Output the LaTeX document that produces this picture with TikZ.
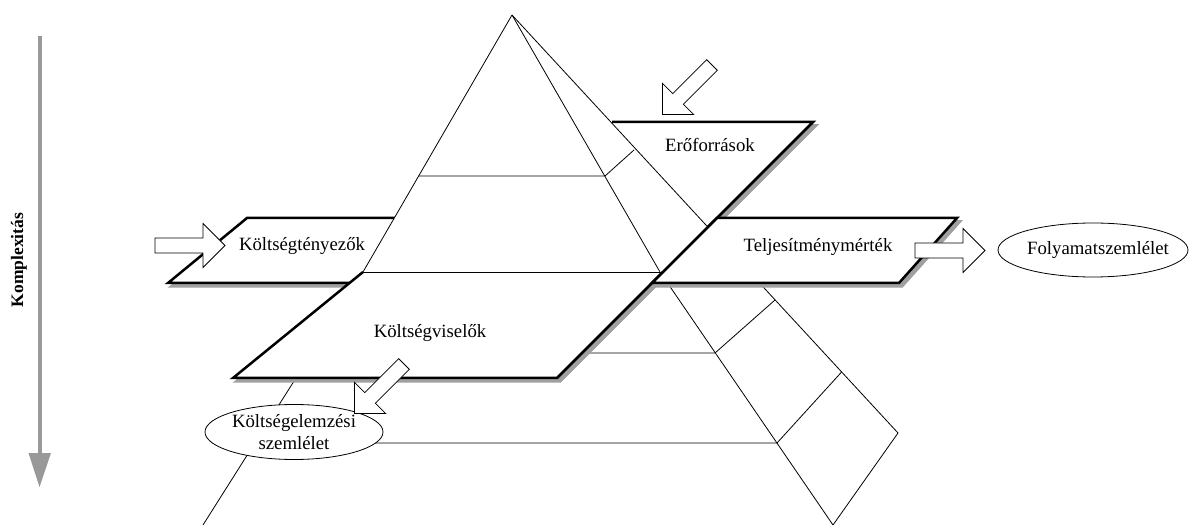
\documentclass[tikz,border=0pt]{standalone}
\usepackage{fontspec}
\setmainfont{Liberation Serif}
\usetikzlibrary{shapes.geometric}
\definecolor{shadowgray}{RGB}{160,160,160}
\definecolor{axisgray}{RGB}{153,153,153}
\newcommand\myblockarrow[2]{%
  \begin{scope}[shift={#1},rotate=#2]
    \draw[blockarrow] (0,-7.5)--(48,-7.5)--(48,-22)--(70,0)--(48,22)--(48,7.5)--(0,7.5)--cycle;
  \end{scope}}
\begin{document}
\begin{tikzpicture}[x=1pt,y=-1pt,
  thinline/.style={line width=0.8pt},
  edge/.style={line width=2.5pt, line join=miter},
  planeshadow/.style={fill=shadowgray, draw=shadowgray, line width=2.5pt, shift={(3,3.5)}},
  planefill/.style={fill=white},
  lbl/.style={font=\fontsize{18.75}{22}\selectfont, inner sep=0pt},
  blockarrow/.style={draw, fill=white, line width=0.8pt, line join=miter},
  oval/.style={ellipse, draw, fill=white, line width=0.8pt, inner sep=0pt}]
\useasboundingbox (0,0) rectangle (1189,526);

% key points
\coordinate (apex) at (512,15);
\coordinate (lk) at (363,272);
\coordinate (lb) at (203,525);
\coordinate (rk) at (660,272);
\coordinate (rb) at (833,525);
\coordinate (ob) at (898,433);

% ---------- Eroforrasok plane (behind pyramid)
\path[planeshadow] (612,122)--(813,122)--(663,272)--(600,272)--cycle;
\path[planefill] (612,122)--(813,122)--(663,272)--(600,272)--cycle;
\draw[edge] (612,122)--(813,122)--(663,272);

% ---------- Koltsegtenyezok plane (behind pyramid)
\path[planeshadow] (247,218)--(440,218)--(400,283)--(168,283)--cycle;
\path[planefill] (247,218)--(440,218)--(400,283)--(168,283)--cycle;
\draw[edge] (440,218)--(247,218)--(168,283)--(400,283);

% ---------- pyramid
\fill[white] (apex)--(ob)--(rb)--(lb)--(lk)--cycle;
\draw[thinline] (apex)--(lk)--(lb);
\draw[thinline] (apex)--(rk)--(rb);
\draw[thinline] (apex)--(ob)--(rb);
\draw[thinline] (419,176)--(605,176)--(634,150);
\draw[thinline] (lk)--(rk);
\draw[thinline] (312,353)--(715,353)--(775,300);
\draw[thinline] (255,443)--(777,443)--(841.6,372);

% ---------- Koltsegviselok plane (front)
\path[planeshadow] (363,272)--(663,272)--(557,378)--(233,378)--cycle;
\path[planefill] (363,272)--(663,272)--(557,378)--(233,378)--cycle;
\draw[thinline] (363,272)--(663,272);
\draw[edge] (363,272)--(233,378)--(557,378)--(663,272);

% ---------- Teljesitmenymertek plane (front)
\path[planeshadow] (717,218)--(957,218)--(899,283)--(652,283)--cycle;
\path[planefill] (717,218)--(957,218)--(899,283)--(652,283)--cycle;
\draw[edge] (717,218)--(957,218)--(899,283)--(652,283)--cycle;

% ---------- labels
\node[lbl] (ktny) at (302,246) {Költségtényezők};
\node[lbl] (erof) at (710,145) {Erőforrások};
\node[lbl] (telj) at (818,247) {Teljesítménymérték};
\node[lbl] (kvis) at (430,333) {Költségviselők};

% ---------- ellipses
\node[oval, minimum width=178pt, minimum height=55pt] (kelemz) at (294,432) {};
\node[lbl, align=center] (kelemzt) at (kelemz.center) {Költségelemzési\\szemlélet};
\node[oval, minimum width=190pt, minimum height=54pt] (folyam) at (1093,250) {};
\node[lbl] (folyamt) at (1098,250) {Folyamatszemlélet};

% ---------- block arrows
\myblockarrow{(155,245.5)}{0}
\myblockarrow{(915,250.5)}{0}
\myblockarrow{(712,65)}{225}
\myblockarrow{(404,364)}{225}

% ---------- complexity axis
\coordinate (axtop) at (39.5,36);
\coordinate (axhead) at (39.5,453);
\draw[axisgray, line width=4pt] (axtop)--(39.5,456);
\fill[axisgray] (28.5,453)--(51,453)--(39.5,487)--cycle;
\node[rotate=90, font=\bfseries\fontsize{17.5}{20}\selectfont, inner sep=0pt] (kompl) at (19,260) {Komplexitás};
\end{tikzpicture}
\end{document}
